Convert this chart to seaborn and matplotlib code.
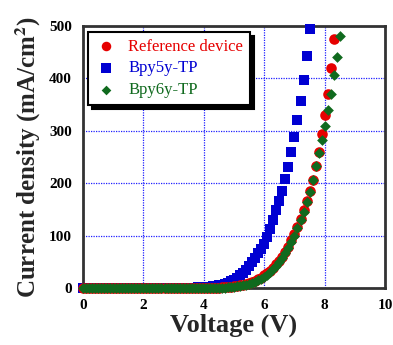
import matplotlib
matplotlib.use("Agg")
import matplotlib.pyplot as plt
import seaborn as sns

# Voltage steps (V), shared by the three devices
voltage = [0.0, 0.1, 0.2, 0.3, 0.4, 0.5, 0.6, 0.7, 0.8, 0.9,
           1.0, 1.1, 1.2, 1.3, 1.4, 1.5, 1.6, 1.7, 1.8, 1.9,
           2.0, 2.1, 2.2, 2.3, 2.4, 2.5, 2.6, 2.7, 2.8, 2.9,
           3.0, 3.1, 3.2, 3.3, 3.4, 3.5, 3.6, 3.7, 3.8, 3.9,
           4.0, 4.1, 4.2, 4.3, 4.4, 4.5, 4.6, 4.7, 4.8, 4.9,
           5.0, 5.1, 5.2, 5.3, 5.4, 5.5, 5.6, 5.7, 5.8, 5.9,
           6.0, 6.1, 6.2, 6.3, 6.4, 6.5, 6.6, 6.7, 6.8, 6.9,
           7.0, 7.1, 7.2, 7.3, 7.4, 7.5, 7.6, 7.7, 7.8, 7.9,
           8.0, 8.1, 8.2, 8.3, 8.4, 8.5]

# Current density (mA/cm2)
j_reference = [0.0, 0.0, 0.0, 0.0, 0.0, 0.0, 0.0, 0.0, 0.0, 0.0,
               0.0, 0.0, 0.0, 0.0, 0.0, 0.0, 0.0, 0.0, 0.0, 0.0,
               0.0, 0.0, 0.0, 0.0, 0.0, 0.0, 0.0, 0.0, 0.0, 0.0,
               0.0, 0.0, 0.0, 0.0, 0.0, 0.0, 0.0, 0.0, 0.0, 0.0,
               0.1, 0.2, 0.3, 0.4, 0.6, 0.8, 1.1, 1.5, 2.0, 2.5,
               3.2, 4.0, 5.0, 6.3, 7.8, 9.5, 11.5, 14, 17, 20,
               24, 28, 33, 39, 45, 52, 60, 69, 79, 91,
               103, 117, 131, 149, 166, 185, 207, 232, 260, 293,
               330, 371, 420, 475]

j_bpy5y = [0.0, 0.0, 0.0, 0.0, 0.0, 0.0, 0.0, 0.0, 0.0, 0.0,
           0.0, 0.0, 0.0, 0.0, 0.0, 0.0, 0.0, 0.0, 0.0, 0.0,
           0.0, 0.0, 0.0, 0.0, 0.0, 0.0, 0.0, 0.0, 0.0, 0.0,
           0.1, 0.15, 0.2, 0.3, 0.4, 0.5, 0.7, 0.9, 1.1, 1.3,
           1.5, 2.0, 2.5, 3.2, 4.0, 5.0, 6.3, 8.0, 10, 13,
           16, 19, 24, 29, 35, 42, 49, 57, 66, 75,
           85, 97, 112, 130, 148, 166, 185, 208, 231, 260,
           288, 321, 357, 397, 443, 494]

j_bpy6y = [0.0, 0.0, 0.0, 0.0, 0.0, 0.0, 0.0, 0.0, 0.0, 0.0,
           0.0, 0.0, 0.0, 0.0, 0.0, 0.0, 0.0, 0.0, 0.0, 0.0,
           0.0, 0.0, 0.0, 0.0, 0.0, 0.0, 0.0, 0.0, 0.0, 0.0,
           0.0, 0.0, 0.0, 0.0, 0.0, 0.0, 0.0, 0.0, 0.0, 0.0,
           0.0, 0.0, 0.1, 0.2, 0.3, 0.5, 0.7, 1.0, 1.4, 1.9,
           2.5, 3.2, 4.1, 5.2, 6.5, 8.0, 9.8, 12, 14.5, 17.5,
           21, 25, 30, 36, 42, 49, 57, 66, 77, 88,
           100, 114, 129, 146, 164, 184, 207, 232, 258, 282,
           310, 339, 371, 406, 441, 480]

labels = ["Reference device", "Bpy5y-TP", "Bpy6y-TP"]
colors = ["#e60000", "#0000d2", "#106a1e"]

sns.set_style("white")
plt.rcParams["font.family"] = ["Liberation Serif", "DejaVu Serif"]
plt.rcParams["mathtext.fontset"] = "stix"

fig, ax = plt.subplots(figsize=(3.93, 3.45), dpi=100)
fig.subplots_adjust(left=0.211, right=0.980, bottom=0.165, top=0.925)

# draw blue first, then red, green on top
sns.scatterplot(x=voltage[:len(j_bpy5y)], y=j_bpy5y, ax=ax, color=colors[1],
                marker="s", s=52, linewidth=0, label=labels[1], clip_on=False, zorder=3)
sns.scatterplot(x=voltage[:len(j_reference)], y=j_reference, ax=ax, color=colors[0],
                marker="o", s=58, linewidth=0, label=labels[0], clip_on=False, zorder=4)
sns.scatterplot(x=voltage[:len(j_bpy6y)], y=j_bpy6y, ax=ax, color=colors[2],
                marker="D", s=30, linewidth=0, label=labels[2], clip_on=False, zorder=5)

ax.set_xlim(0, 10)
ax.set_ylim(0, 500)
ax.set_xticks([0, 2, 4, 6, 8, 10])
ax.set_yticks([0, 100, 200, 300, 400, 500])
ax.grid(True, color="#2020ff", linestyle=(0, (1, 1)), linewidth=0.9)
ax.set_axisbelow(True)

for sp in ax.spines.values():
    sp.set_color("#333333")
    sp.set_linewidth(2)

ax.tick_params(direction="in", length=3, width=1, colors="#333333",
               labelcolor="black", labelsize=11, pad=8)
for t in ax.get_xticklabels() + ax.get_yticklabels():
    t.set_fontweight("bold")

ax.set_xlabel("Voltage (V)", fontsize=19, fontweight="bold", labelpad=1)
ax.set_ylabel("Current density (mA/cm$^\\mathbf{2}$)", fontsize=18,
              fontweight="bold", labelpad=4)

handles, _ = ax.get_legend_handles_labels()
# legend order: reference, Bpy5y, Bpy6y
handles = [handles[1], handles[0], handles[2]]
leg = ax.legend(handles, labels, loc="upper left", bbox_to_anchor=(0.017, 0.977),
                borderaxespad=0, fancybox=False, frameon=True, framealpha=1,
                edgecolor="black",
                shadow={"color": "black", "alpha": 1, "ox": 3, "oy": -3},
                prop={"size": 12}, handletextpad=0.6, borderpad=0.4,
                labelspacing=0.35, handlelength=1.4, markerscale=0.9)
leg.get_frame().set_linewidth(1.5)
for t, c in zip(leg.get_texts(), colors):
    t.set_color(c)

fig.savefig("out.png", dpi=100)
